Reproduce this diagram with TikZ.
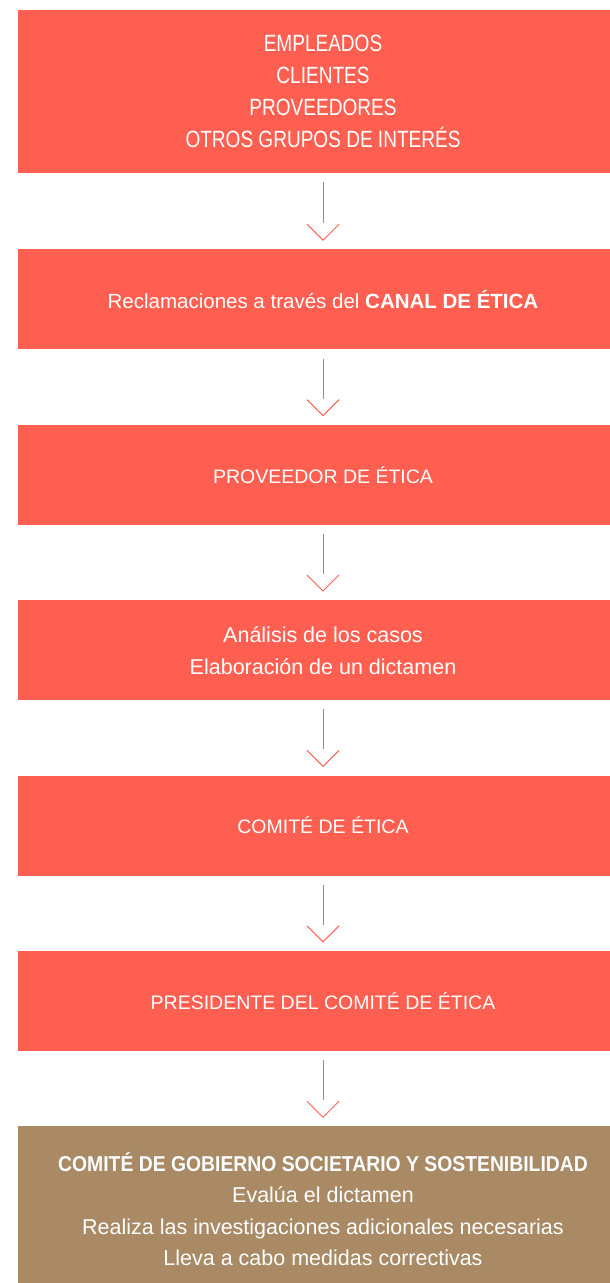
\documentclass[tikz,border=0pt]{standalone}
\usepackage{fontspec}
\setmainfont{Liberation Sans}
\newfontfamily\tallfont[FakeStretch=0.81]{Liberation Sans}
\newfontfamily\gobfont[FakeStretch=0.9]{Liberation Sans}
\usepackage{tikz}
\usetikzlibrary{positioning}

\definecolor{coral}{HTML}{FF5F50}
\definecolor{tan}{HTML}{A98A64}

\tikzset{
  box/.style={fill=coral, text=white, minimum width=610pt, minimum height=100pt,
    align=center, inner sep=0pt, font=\fontsize{19.5}{32}\selectfont},
  link/.style={draw=coral, line width=1pt}
}

\begin{document}
\begin{tikzpicture}[node distance=75pt]
                \useasboundingbox (0,0) rectangle (610pt,-1283pt);
                \node[box, minimum height=163pt, font=\tallfont\fontsize{23.5}{32}\selectfont] (grupos) at (323pt,-91.5pt)
                    {EMPLEADOS\\CLIENTES\\PROVEEDORES\\OTROS GRUPOS DE INTERÉS};
                \node[box, below=76pt of grupos, font=\fontsize{20.5}{32}\selectfont] (canal)
                    {Reclamaciones a través del \textbf{CANAL DE ÉTICA}};
                \node[box, below=of canal] (proveedor) {PROVEEDOR DE ÉTICA};
                \node[box, below=of proveedor, font=\fontsize{21.5}{32}\selectfont] (analisis)
                    {Análisis de los casos\\Elaboración de un dictamen};
                \node[box, below=of analisis] (comite) {COMITÉ DE ÉTICA};
                \node[box, below=of comite] (presidente) {PRESIDENTE DEL COMITÉ DE ÉTICA};
                \node[box, fill=tan, minimum height=165pt, below=of presidente,
                    font=\fontsize{21.5}{31.5}\selectfont] (gobierno)
                    {{\gobfont\bfseries COMITÉ DE GOBIERNO SOCIETARIO Y SOSTENIBILIDAD}\\Evalúa el dictamen\\
                     Realiza las investigaciones adicionales necesarias\\Lleva a cabo medidas correctivas};
                \foreach \a/\b in {grupos/canal, canal/proveedor, proveedor/analisis,
                                   analisis/comite, comite/presidente, presidente/gobierno} {
                    \draw[link, shorten <=9pt, shorten >=26pt] (\a) -- (\b);
                    \draw[link] ([shift={(-16pt,25pt)}]\b.north) -- ([yshift=9pt]\b.north)
                        -- ([shift={(16pt,25pt)}]\b.north);
                }
            \end{tikzpicture}
\end{document}
